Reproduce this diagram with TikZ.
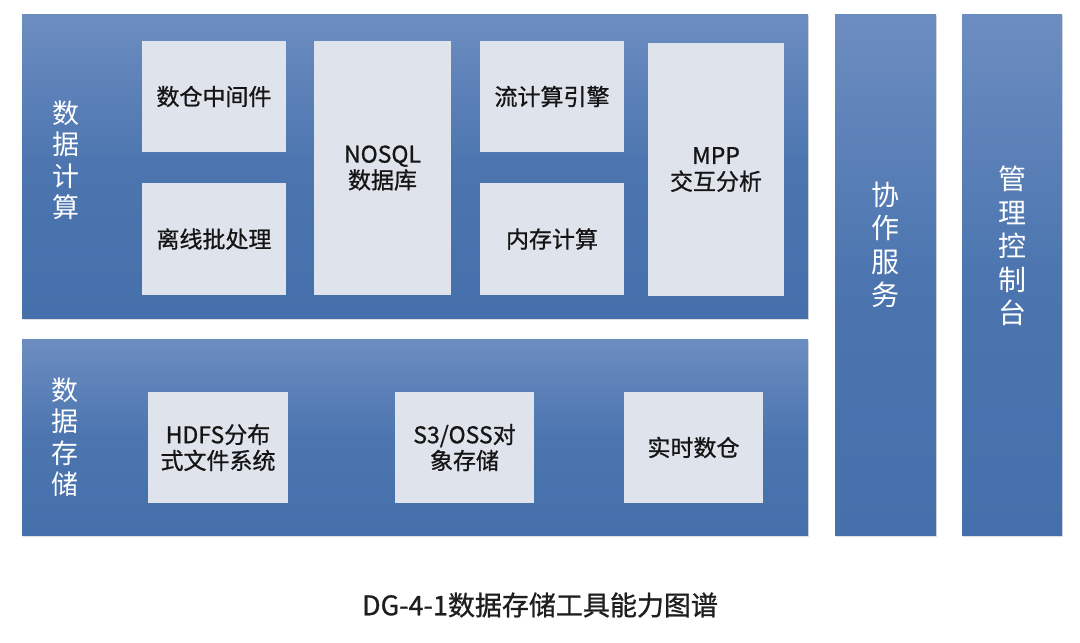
\documentclass[tikz,border=0pt]{standalone}
\usepackage{fontspec}
\setmainfont{Noto Sans CJK SC}
\newfontfamily\medfont{Noto Sans CJK SC}[FakeBold=0.9]
\usetikzlibrary{shadows}
\definecolor{pantop}{HTML}{6C8DC1}
\definecolor{panmid}{HTML}{4C75AF}
\definecolor{panbot}{HTML}{4570AB}
\definecolor{boxfill}{HTML}{DFE4EC}
\definecolor{boxtext}{HTML}{151515}
\definecolor{titletext}{HTML}{1E1E1E}
\tikzset{
  panel/.style={draw=none, top color=pantop, bottom color=panbot, middle color=panmid,
    drop shadow={opacity=0.25, shadow xshift=1pt, shadow yshift=-2pt},
    inner sep=0pt, outer sep=0pt},
  item/.style={fill=boxfill, draw=none, inner sep=0pt, outer sep=0pt, align=center,
    text=boxtext, font=\medfont\fontsize{23}{28}\selectfont},
  sidelabel/.style={text=white, align=center, inner sep=0pt, font=\fontsize{27}{31.5}\selectfont},
  collabel/.style={text=white, align=center, inner sep=0pt, font=\fontsize{28}{33.5}\selectfont},
}
\newcommand{\rbox}[6]{% name, x1, y1, x2, y2, text
  \node[item, minimum width={(#4-#2)*1pt}, minimum height={(#5-#3)*1pt}] (#1) at ({(#2+#4)/2},{(#3+#5)/2}) {#6};}
\begin{document}
\begin{tikzpicture}[x=1pt,y=-1pt]
\useasboundingbox (0,0) rectangle (1080,643);
\fill[white] (0,0) rectangle (1080,643);
% panels
\node[panel, minimum width=786pt, minimum height=304pt] (calc) at (415,166) {};
\node[panel, minimum width=786pt, minimum height=196pt] (store) at (415,437) {};
\node[panel, minimum width=101pt, minimum height=521pt] (coop) at (885.5,274.5) {};
\node[panel, minimum width=100pt, minimum height=521pt] (mgmt) at (1012,274.5) {};
% side labels
\node[sidelabel] (calclbl) at (66,160) {数\\据\\计\\算};
\node[sidelabel] (storelbl) at (65,437) {数\\据\\存\\储};
\node[collabel] (cooplbl) at (885.5,245) {协\\作\\服\\务};
\node[collabel] (mgmtlbl) at (1012,246) {管\\理\\控\\制\\台};
% compute items
\rbox{dwmid}{142}{41}{286}{152}{数仓中间件}
\rbox{batch}{142}{183}{286}{295}{离线批处理}
\rbox{nosql}{314}{41}{451}{295}{NOSQL\\[-2pt]数据库}
\rbox{stream}{480}{41}{624}{152}{流计算引擎}
\rbox{mem}{480}{183}{624}{295}{内存计算}
\rbox{mpp}{648}{43}{784}{296}{MPP\\[-2pt]交互分析}
% storage items
\rbox{hdfs}{148}{392}{288}{503}{HDFS分布\\[-2pt]式文件系统}
\rbox{s3}{395}{392}{534}{503}{S3/OSS对\\[-2pt]象存储}
\rbox{rtdw}{624}{392}{763}{503}{实时数仓}
% title
\node[text=titletext, font=\medfont\fontsize{27}{32}\selectfont, inner sep=0pt] (title) at (540,605) {DG-4-1数据存储工具能力图谱};
\end{tikzpicture}
\end{document}
